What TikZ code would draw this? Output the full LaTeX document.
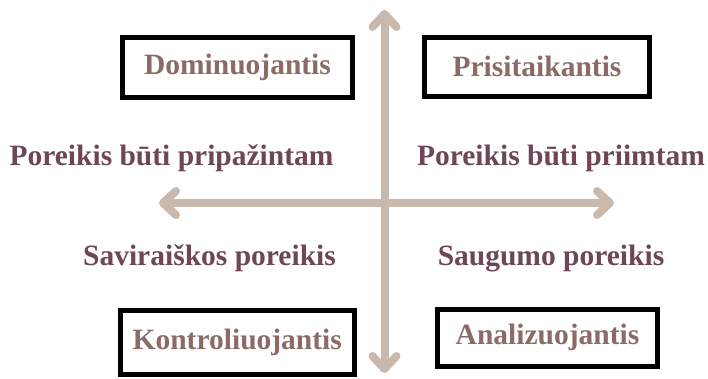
\documentclass[tikz,border=0pt]{standalone}
\usepackage{fontspec}
\setmainfont{Liberation Serif}
\usetikzlibrary{arrows.meta}

\definecolor{axisgray}{HTML}{C9B9AD}
\definecolor{boxtext}{HTML}{8C6B66}
\definecolor{needtext}{HTML}{6E4657}

\begin{document}
\begin{tikzpicture}[x=1pt,y=-1pt,
    quadbox/.style={draw=black,line width=5pt,inner sep=0pt,text=boxtext,
      font=\fontsize{29.5}{34}\selectfont\bfseries},
    need/.style={text=needtext,anchor=base,inner sep=0pt,
      font=\fontsize{29.5}{34}\selectfont\bfseries},
    axis/.style={draw=axisgray,line width=8pt,
      {Straight Barb[round,length=13pt,width=24pt]}-{Straight Barb[round,length=13pt,width=24pt]}}]
  \useasboundingbox (0,0) rectangle (708,378);

  % axes
  \coordinate (north) at (384.5,10);
  \coordinate (south) at (384.5,373);
  \coordinate (west) at (159,203);
  \coordinate (east) at (614,203);
  \draw[axis] (north) -- (south);
  \draw[axis] (west) -- (east);

  % quadrant boxes
  \node[quadbox,minimum width=230pt,minimum height=60pt] (dom) at (237.5,67.5) {Dominuojantis};
  \node[quadbox,minimum width=225pt,minimum height=58.5pt] (pri) at (537,66.75) {Prisitaikantis};
  \node[quadbox,minimum width=234.5pt,minimum height=64.5pt] (kon) at (237.25,342.25) {Kontroliuojantis};
  \node[quadbox,minimum width=220pt,minimum height=56.5pt] (ana) at (547.5,337.75) {Analizuojantis};

  % needs
  \node[need] (pripazintam) at (171.5,165) {Poreikis būti pripažintam};
  \node[need] (priimtam) at (561,165) {Poreikis būti priimtam};
  \node[need] (saviraiska) at (209.5,265) {Saviraiškos poreikis};
  \node[need] (saugumas) at (551,265) {Saugumo poreikis};
\end{tikzpicture}
\end{document}
